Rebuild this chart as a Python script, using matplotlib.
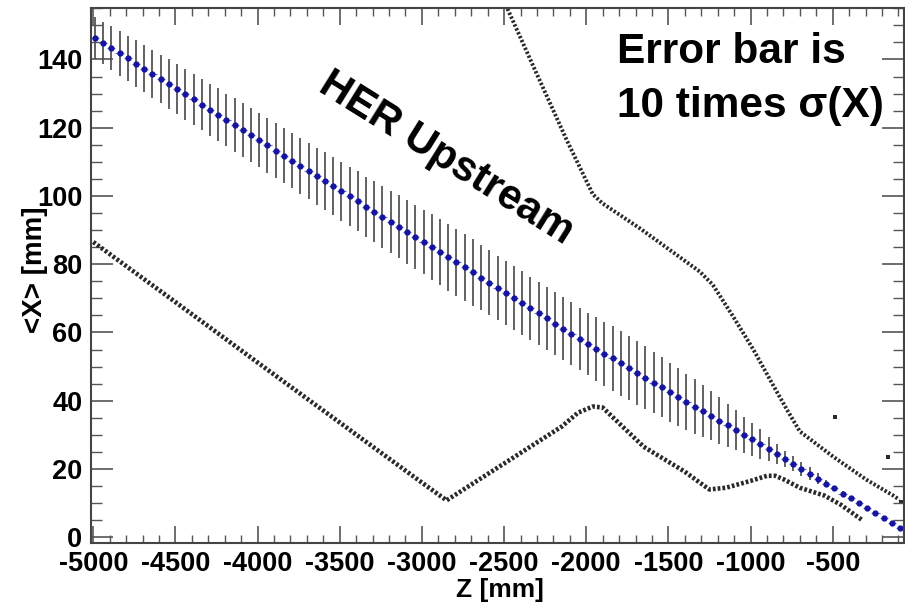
import numpy as np
import matplotlib
matplotlib.use("Agg")
import matplotlib.pyplot as plt
from matplotlib.ticker import MultipleLocator

plt.rcParams['font.family'] = ['Liberation Sans', 'DejaVu Sans']
plt.rcParams['font.weight'] = 'bold'
plt.rcParams['axes.unicode_minus'] = False

# blue profile points: <X> vs Z, error = 10 x sigma(X)
z_prof = np.arange(-4990, -40, 50)
x_mean = [146.3, 144.8, 143.3, 141.8, 140.3, 138.8, 137.3, 135.8, 134.3, 132.8,
          131.3, 129.8, 128.3, 126.8, 125.3, 123.8, 122.3, 120.8, 119.3, 117.8,
          116.3, 114.8, 113.3, 111.8, 110.3, 108.8, 107.3, 105.8, 104.4, 102.9,
          101.4, 99.9, 98.4, 96.9, 95.4, 93.9, 92.5, 91.0, 89.5, 88.0,
          86.5, 85.0, 83.5, 82.0, 80.6, 79.1, 77.6, 76.1, 74.6, 73.1,
          71.6, 70.1, 68.6, 67.1, 65.6, 64.1, 62.6, 61.1, 59.6, 58.1,
          56.6, 55.2, 53.8, 52.4, 51.0, 49.5, 48.1, 46.7, 45.3, 43.9,
          42.5, 41.1, 39.7, 38.3, 36.9, 35.6, 34.2, 32.8, 31.4, 30.0,
          28.7, 27.3, 25.8, 24.4, 22.9, 21.5, 20.0, 18.6, 17.2, 15.7,
          14.3, 12.8, 11.4, 9.9, 8.5, 7.1, 5.6, 4.2, 2.8]
x_err = [6.1, 6.2, 6.4, 6.5, 6.6, 6.8, 6.9, 7.0, 7.1, 7.2,
         7.3, 7.4, 7.5, 7.5, 7.6, 7.7, 7.7, 7.8, 7.8, 7.9,
         7.9, 8.0, 8.0, 8.0, 8.1, 8.1, 8.2, 8.3, 8.4, 8.5,
         8.6, 8.7, 8.8, 8.8, 8.9, 9.0, 9.1, 9.2, 9.3, 9.4,
         9.5, 9.6, 9.7, 9.8, 9.8, 9.8, 9.7, 9.6, 9.5, 9.4,
         9.4, 9.3, 9.3, 9.3, 9.2, 9.2, 9.2, 9.2, 9.2, 9.2,
         9.2, 9.3, 9.4, 9.5, 9.5, 9.4, 9.3, 9.2, 9.0, 8.8,
         8.6, 8.4, 8.2, 8.0, 7.6, 7.2, 6.8, 6.3, 5.8, 5.3,
         4.8, 4.4, 3.6, 3.0, 2.4, 2.2, 2.1, 1.9, 1.5, 1.0,
         0.8, 0.6, 0.5, 0.4, 0.3, 0.3, 0.2, 0.2, 0.2]

# black bands (2D histogram boxes)
lower_z = [-5000, -4500, -4000, -3500, -3000, -2850, -2500, -2150, -2050, -1960,
           -1900, -1650, -1400, -1280, -1250, -1150, -1000, -900, -850, -800,
           -700, -550, -450, -320]
lower_x = [86.5, 68.9, 51.2, 33.6, 16.0, 10.8, 21.6, 32.4, 36.5, 38.3,
           38.0, 26.5, 19.2, 15.0, 14.0, 14.5, 16.5, 18.0, 18.0, 17.0,
           14.5, 12.2, 9.5, 5.0]
upper_z = [-2490, -2320, -2120, -1960, -1900, -1673, -1308, -1230, -1105, -983,
           -862, -780, -700, -497, -293, -131, -95]
upper_x = [156.0, 137.8, 116.5, 100.5, 97.8, 90.5, 77.8, 74.0, 64.6, 55.0,
           44.5, 37.5, 31.0, 23.6, 16.8, 12.2, 11.0]
stray_z = [-486, -164, -85, -75, -65]
stray_x = [35.3, 23.6, 10.3, 10.3, 10.3]

fig = plt.figure(figsize=(9.05, 6.05), dpi=100)
ax = fig.add_axes([0.1002, 0.1030, 0.8987, 0.8833])

ax.plot(lower_z, lower_x, color='#2a2a2a', lw=3.3, dashes=(0.6, 0.45))
ax.plot(upper_z, upper_x, color='#2a2a2a', lw=2.8, dashes=(0.6, 0.5))
ax.scatter(stray_z, stray_x, marker='s', s=8, color='#2a2a2a', lw=0)

ax.errorbar(z_prof, x_mean, yerr=x_err, fmt='none', ecolor='#555555', elinewidth=1.3)
ax.errorbar(z_prof, x_mean, xerr=25, fmt='o', color='#1414a0', ms=3.5,
            ecolor='#6a6ad0', elinewidth=0.8)

ax.set_xlim(-5016, -66)
ax.set_ylim(-1.6, 155)

ax.xaxis.set_major_locator(MultipleLocator(500))
ax.xaxis.set_minor_locator(MultipleLocator(100))
ax.yaxis.set_major_locator(MultipleLocator(20))
ax.yaxis.set_minor_locator(MultipleLocator(5))
ax.tick_params(which='both', direction='in', top=True, right=True, colors='#555555',
               labelcolor='black', labelsize=19.5)
ax.tick_params(axis='x', which='major', length=12, width=1.2, pad=6)
ax.tick_params(axis='x', which='minor', length=6, width=1.0)
ax.tick_params(axis='y', which='major', length=16, width=1.2, pad=6)
ax.tick_params(axis='y', which='minor', length=8, width=1.0)
for lab in ax.get_xticklabels() + ax.get_yticklabels():
    lab.set_fontweight('bold')
for sp in ax.spines.values():
    sp.set_color('#444444')
    sp.set_linewidth(1.5)

fig.text(35 / 905, 1 - 270 / 605, '<X> [mm]', rotation=90, ha='center', va='center',
         fontsize=20, fontweight='bold')
fig.text(500 / 905, 1 - 590 / 605, 'Z [mm]', ha='center', va='center',
         fontsize=19, fontweight='bold')

fig.text(617 / 905, 1 - 63 / 605, 'Error bar is', ha='left', va='baseline',
         fontsize=30.5, fontweight='bold')
fig.text(617 / 905, 1 - 117 / 605, '10 times σ(X)', ha='left', va='baseline',
         fontsize=30.5, fontweight='bold')
fig.text(446 / 905, 1 - 158 / 605, 'HER Upstream', rotation=-32, ha='center', va='center',
         fontsize=30, fontweight='bold')

fig.savefig('out.png', dpi=100)
